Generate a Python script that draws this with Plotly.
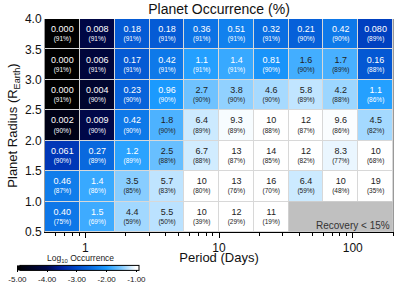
import numpy as np
import plotly.graph_objects as go

# Period bin edges (days) and radius bin edges (Earth radii)
period_edges = [0.5, 0.91, 1.66, 3.03, 5.52, 10.0, 18.2, 33.2, 60.4, 110.0, 200.0]
radius_edges = [0.5, 1.0, 1.5, 2.0, 2.5, 3.0, 3.5, 4.0]

# Occurrence (%) rows from bottom (0.5-1.0) to top (3.5-4.0); None = recovery < 15%
occ_r05 = [0.40, 1.5, 4.4, 5.5, 10, 12, 11, None, None, None]
occ_r10 = [0.46, 1.4, 3.5, 5.7, 10, 13, 16, 6.4, 10, 19]
occ_r15 = [0.061, 0.27, 1.2, 2.5, 6.7, 13, 14, 12, 8.3, 10]
occ_r20 = [0.002, 0.009, 0.42, 1.8, 6.4, 9.3, 10, 12, 9.6, 4.5]
occ_r25 = [0.000, 0.004, 0.23, 0.96, 2.7, 3.8, 4.6, 5.8, 4.2, 1.1]
occ_r30 = [0.000, 0.006, 0.17, 0.42, 1.1, 1.4, 0.81, 1.6, 1.7, 0.16]
occ_r35 = [0.000, 0.008, 0.18, 0.18, 0.36, 0.51, 0.32, 0.21, 0.42, 0.080]

occ_labels_r05 = ["0.40", "1.5", "4.4", "5.5", "10", "12", "11", None, None, None]
occ_labels_r10 = ["0.46", "1.4", "3.5", "5.7", "10", "13", "16", "6.4", "10", "19"]
occ_labels_r15 = ["0.061", "0.27", "1.2", "2.5", "6.7", "13", "14", "12", "8.3", "10"]
occ_labels_r20 = ["0.002", "0.009", "0.42", "1.8", "6.4", "9.3", "10", "12", "9.6", "4.5"]
occ_labels_r25 = ["0.000", "0.004", "0.23", "0.96", "2.7", "3.8", "4.6", "5.8", "4.2", "1.1"]
occ_labels_r30 = ["0.000", "0.006", "0.17", "0.42", "1.1", "1.4", "0.81", "1.6", "1.7", "0.16"]
occ_labels_r35 = ["0.000", "0.008", "0.18", "0.18", "0.36", "0.51", "0.32", "0.21", "0.42", "0.080"]

# Recovery (%)
rec_r05 = [75, 69, 59, 50, 39, 29, 19, None, None, None]
rec_r10 = [87, 86, 85, 83, 80, 76, 70, 59, 48, 35]
rec_r15 = [90, 89, 89, 88, 88, 87, 85, 82, 77, 68]
rec_r20 = [90, 90, 90, 90, 89, 89, 88, 87, 86, 82]
rec_r25 = [91, 90, 90, 90, 90, 90, 90, 89, 88, 86]
rec_r30 = [91, 91, 91, 91, 91, 91, 90, 90, 89, 88]
rec_r35 = [91, 91, 91, 91, 91, 91, 91, 90, 90, 89]

occ = [occ_r05, occ_r10, occ_r15, occ_r20, occ_r25, occ_r30, occ_r35]
labels = [occ_labels_r05, occ_labels_r10, occ_labels_r15, occ_labels_r20,
          occ_labels_r25, occ_labels_r30, occ_labels_r35]
rec = [rec_r05, rec_r10, rec_r15, rec_r20, rec_r25, rec_r30, rec_r35]

cb_ticks = [-5, -4, -3, -2, -1]
cb_ticklabels = ["-5.00", "-4.00", "-3.00", "-2.00", "-1.00"]

FONT = "Liberation Sans, Arial, Helvetica, sans-serif"

z = []
for row in occ:
    zr = []
    for v in row:
        if v is None:
            zr.append(None)
        elif v <= 0:
            zr.append(-6.0)
        else:
            zr.append(float(np.log10(v / 100.0)))
    z.append(zr)

colorscale = [
    [0.00, "#000000"],
    [0.25, "#00084c"],
    [0.375, "#0020a0"],
    [0.50, "#0048c8"],
    [0.625, "#0a6ee2"],
    [0.75, "#1c9cff"],
    [0.875, "#7cc8ff"],
    [1.00, "#ffffff"],
]

fig = go.Figure()

fig.add_trace(go.Heatmap(
    x=period_edges, y=radius_edges, z=z,
    zmin=-5, zmax=-1, colorscale=colorscale,
    xgap=1, ygap=1, hoverinfo="skip",
    colorbar=dict(
        orientation="h", xref="container", yref="container",
        x=20 / 399, xanchor="left", y=0, yanchor="bottom",
        lenmode="pixels", len=119, thickness=5,
        outlinecolor="#000000", outlinewidth=1,
        tickvals=cb_ticks, ticktext=cb_ticklabels,
        tickfont=dict(size=8, family=FONT, color="#222"),
        ticks="outside", ticklen=2, tickcolor="#000",
        xpad=0, ypad=0,
    ),
))

# Gray "low recovery" block
gray_x = [period_edges[7], period_edges[10]]
gray_y = [radius_edges[0], radius_edges[1]]
fig.add_trace(go.Heatmap(
    x=gray_x, y=gray_y, z=[[1]], zmin=0, zmax=1,
    colorscale=[[0, "#c0c0c0"], [1, "#c0c0c0"]], showscale=False,
    hoverinfo="skip",
))

# Cell texts
xs, ys, tv, tp, cols = [], [], [], [], []
for i in range(len(occ)):
    yc = (radius_edges[i] + radius_edges[i + 1]) / 2
    for j in range(len(occ[i])):
        if occ[i][j] is None:
            continue
        xc = float(np.sqrt(period_edges[j] * period_edges[j + 1]))
        xs.append(xc)
        ys.append(yc)
        tv.append(labels[i][j])
        tp.append("(%d%%)" % rec[i][j])
        cols.append("#ffffff" if occ[i][j] < 1.55 else "#222222")

fig.add_trace(go.Scatter(
    x=xs, y=[y + 0.07 for y in ys], mode="text", text=tv,
    textfont=dict(size=9, family=FONT, color=cols), hoverinfo="skip",
    showlegend=False,
))
fig.add_trace(go.Scatter(
    x=xs, y=[y - 0.09 for y in ys], mode="text", text=tp,
    textfont=dict(size=6.5, family=FONT, color=cols), hoverinfo="skip",
    showlegend=False,
))

fig.add_annotation(
    x=1, y=0, xref="paper", yref="paper", xanchor="right", yanchor="bottom",
    text="Recovery < 15%", showarrow=False,
    font=dict(size=10, family=FONT, color="#333"), xshift=-1, yshift=-1,
)

# Colorbar title
fig.add_annotation(
    x=(80 - 45) / 348, y=(232 - 258) / 213, xref="paper", yref="paper",
    xanchor="center", yanchor="middle", showarrow=False,
    text="Log<sub>10</sub> Occurrence",
    font=dict(size=8.5, family=FONT, color="#222"),
)

fig.update_layout(
    width=399, height=285,
    margin=dict(l=45, r=6, t=19, b=53, autoexpand=False),
    paper_bgcolor="#ffffff", plot_bgcolor="#d8d8d8",
    showlegend=False,
    title=dict(text="Planet Occurrence (%)", x=0.5, xref="paper",
               y=1 - 9 / 285, yref="container", yanchor="middle",
               font=dict(size=14, family=FONT, color="#111")),
    font=dict(family=FONT, color="#111"),
)

fig.update_xaxes(
    type="log", range=[np.log10(period_edges[0]), np.log10(period_edges[-1])],
    tickvals=[1, 10, 100], ticktext=["1", "10", "100"],
    ticks="outside", ticklen=5, tickcolor="#000",
    minor=dict(ticks="outside", ticklen=3, tickcolor="#000",
               tickvals=[0.6, 0.7, 0.8, 0.9, 2, 3, 4, 5, 6, 7, 8, 9,
                         20, 30, 40, 50, 60, 70, 80, 90, 200]),
    showgrid=False, zeroline=False,
    showline=True, linecolor="#000", linewidth=1, mirror=False,
    tickfont=dict(size=12, family=FONT, color="#111"),
    title=dict(text="Period (Days)", font=dict(size=13, family=FONT, color="#111"),
               standoff=5),
)
fig.update_yaxes(
    range=[radius_edges[0], radius_edges[-1]],
    tickvals=radius_edges, ticktext=["%.1f" % v for v in radius_edges],
    ticks="", showgrid=False, zeroline=False,
    showline=True, linecolor="#999", linewidth=1, mirror=True,
    tickfont=dict(size=12, family=FONT, color="#111"),
    title=dict(text="Planet Radius (R<sub>Earth</sub>)",
               font=dict(size=13, family=FONT, color="#111"), standoff=4),
)

fig.write_html(
    "out.html",
    config={"displayModeBar": False},
    post_script="document.body.style.margin='0px';document.body.style.padding='0px';",
)
